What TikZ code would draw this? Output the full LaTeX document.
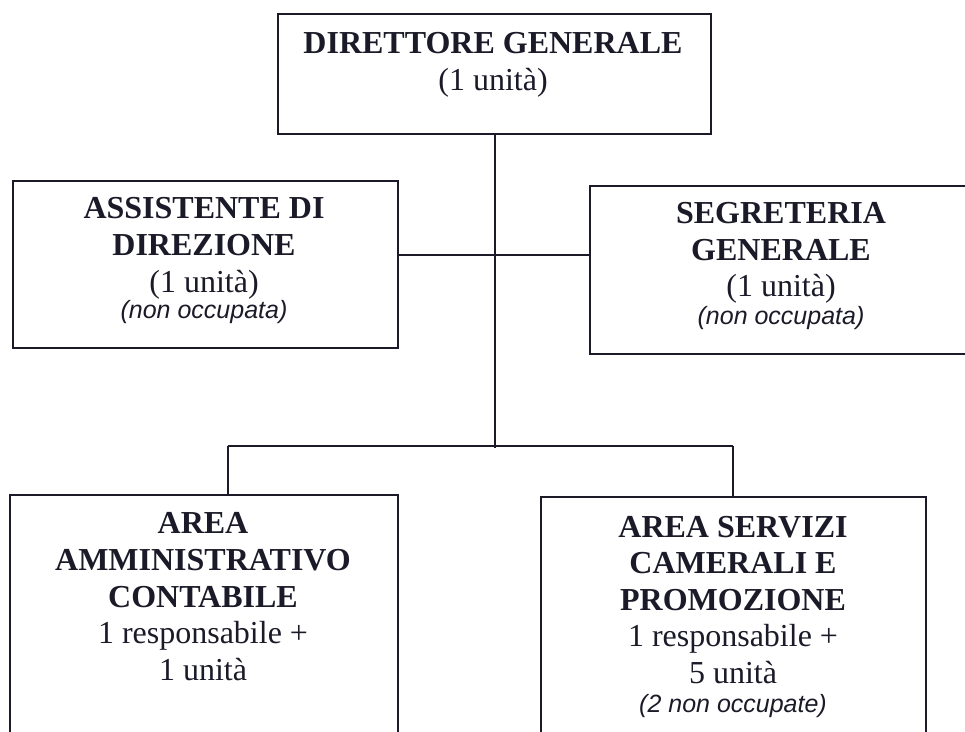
\documentclass[tikz,border=0pt]{standalone}
\usepackage{fontspec}
\setmainfont{Liberation Serif}
\newfontfamily\notefont{Liberation Sans}
\definecolor{ink}{RGB}{26,26,40}
\begin{document}
\begin{tikzpicture}[x=1pt,y=-1pt,
  box/.style={draw=ink,line width=2pt,inner sep=0pt,anchor=north west},
  txt/.style={anchor=base,inner sep=0pt,text=ink,font=\fontsize{32}{37}\selectfont},
  head/.style={txt,font=\fontsize{32}{37}\selectfont\bfseries},
  note/.style={txt,font=\notefont\itshape\fontsize{25}{30}\selectfont},
  conn/.style={draw=ink,line width=2pt}]
\useasboundingbox (0,0) rectangle (965,731);
% boxes
\node[box,minimum width=433pt,minimum height=120pt] (dg) at (277,13) {};
\node[box,minimum width=385pt,minimum height=167pt] (ad) at (12,180) {};
\node[box,minimum width=383pt,minimum height=168pt] (sg) at (589,185) {};
\node[box,minimum width=388pt,minimum height=270pt] (aac) at (9,494) {};
\node[box,minimum width=385pt,minimum height=270pt] (ascp) at (540,496) {};
% texts
\node[head] (dg1) at (493,53) {DIRETTORE GENERALE};
\node[txt] (dg2) at (493,90) {(1 unità)};
\node[head] (ad1) at (204,218) {ASSISTENTE DI};
\node[head] (ad2) at (204,255) {DIREZIONE};
\node[txt] (ad3) at (204,292) {(1 unità)};
\node[note] (ad4) at (204,318) {(non occupata)};
\node[head] (sg1) at (781,223) {SEGRETERIA};
\node[head] (sg2) at (781,260) {GENERALE};
\node[txt] (sg3) at (781,296) {(1 unità)};
\node[note] (sg4) at (781,324) {(non occupata)};
\node[head] (aac1) at (203,533) {AREA};
\node[head] (aac2) at (203,570) {AMMINISTRATIVO};
\node[head] (aac3) at (203,607) {CONTABILE};
\node[txt] (aac4) at (203,643) {1 responsabile +};
\node[txt] (aac5) at (203,680) {1 unità};
\node[head] (ascp1) at (733,537) {AREA SERVIZI};
\node[head] (ascp2) at (733,573) {CAMERALI E};
\node[head] (ascp3) at (733,610) {PROMOZIONE};
\node[txt] (ascp4) at (733,646) {1 responsabile +};
\node[txt] (ascp5) at (733,683) {5 unità};
\node[note] (ascp6) at (733,712) {(2 non occupate)};
% connectors
\coordinate (jm) at ([yshift=-120pt]dg.south);
\coordinate (jb) at ([yshift=-313pt]dg.south);
\coordinate (jl) at (228,446);
\coordinate (jr) at (733,446);
\draw[conn] (dg.south) -- (jb);
\draw[conn] (ad.east |- jm) -- (sg.west |- jm);
\draw[conn] (jl) -- (jr);
\draw[conn] (jl) -- (jl |- aac.north);
\draw[conn] (jr) -- (jr |- ascp.north);
\end{tikzpicture}
\end{document}
